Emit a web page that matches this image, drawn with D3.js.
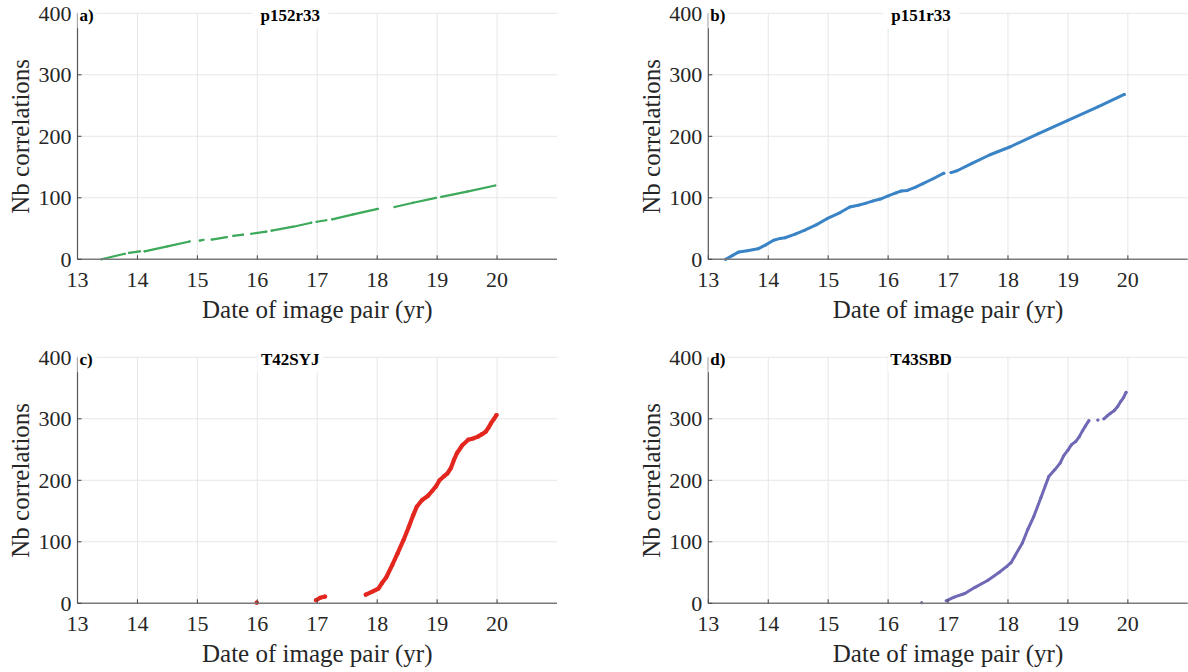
<!DOCTYPE html>
<meta charset="utf-8">
<style>
body { margin: 0; background: #fff; }
</style>
<svg width="1188" height="672"></svg>
<script src="https://d3js.org/d3.v7.min.js"></script>
<script>

// ---- data (null = gap in the record) ----
var yearsA  = [13.40, 13.79, null, 13.86, 14.04, null, 14.12, 14.50, 14.87, null, 15.04, 15.10, null,
               15.24, 15.49, null, 15.60, 15.76, null, 15.90, 16.15, null, 16.24, 16.60, 16.90, null,
               16.99, 17.15, null, 17.25, 17.60, 18.01, null, 18.29, 18.60, 18.98, null, 19.07, 19.50, 19.97];
var countsA = [0, 9, null, 10.5, 13, null, 13, 21, 29, null, 30.5, 31.5, null,
               32, 36, null, 38, 40, null, 41.5, 45, null, 46.5, 53, 59.5, null,
               61, 63.5, null, 65, 73, 82, null, 85, 92, 100, null, 101.5, 110, 120];

var yearsB  = [13.29, 13.40, 13.51, 13.65, 13.83, 13.95, 14.09, 14.20, 14.28, 14.45, 14.60, 14.80, 14.98,
               15.20, 15.36, 15.50, 15.62, 15.75, 15.87, 16.00, 16.13, 16.22, 16.32, 16.45, 16.58, 16.75,
               16.93, null, 17.05, 17.15, 17.40, 17.70, 18.04, 18.50, 19.00, 19.50, 19.94];
var countsB = [0, 6, 12, 14, 17, 23, 31, 34, 35, 41, 47, 56, 66,
               76, 85, 88, 91, 95, 98, 103, 108, 111, 112, 117, 123, 131,
               140, null, 141, 144, 156, 170, 183, 204, 226, 248, 268];

var yearsC  = [15.99, null, 16.98, 17.05, 17.13, null, 17.81, 17.92, 18.02, 18.08, 18.15, 18.25, 18.34,
               18.44, 18.53, 18.60, 18.66, 18.75, 18.85, 18.92, 18.98, 19.04, 19.12, 19.17, 19.23, 19.28,
               19.33, 19.42, 19.52, 19.60, 19.68, 19.75, 19.81, 19.86, 19.90, 19.95, 19.99];
var countsC = [1, null, 5, 9, 11, null, 14, 19, 24, 33, 42, 62, 81,
               103, 125, 143, 157, 168, 175, 183, 190, 200, 207, 211, 220, 233,
               244, 257, 266, 268, 271, 275, 279, 286, 293, 300, 306];

var yearsD  = [16.56, null, 16.97, 17.10, 17.28, 17.45, 17.66, 17.85, 17.98, 18.05, 18.11, 18.24, 18.33,
               18.43, 18.55, 18.68, 18.78, 18.87, 18.93, 19.00, 19.06, 19.13, 19.19, 19.24, 19.29, 19.35,
               null, 19.50, null, 19.60, 19.66, 19.71, 19.77, 19.83, 19.88, 19.93, 19.97];
var countsD = [1, null, 4, 10, 16, 26, 37, 50, 60, 66, 76, 98, 120,
               141, 172, 206, 217, 228, 240, 249, 258, 263, 271, 280, 288, 297,
               null, 298, null, 300, 305, 309, 313, 320, 328, 335, 343];

var xTicks = [13, 14, 15, 16, 17, 18, 19, 20];
var yTicks = [0, 100, 200, 300, 400];

var panels = [
  {tag: "a)", name: "p152r33", years: yearsA, counts: countsA, color: "#3da95a", lw: 2.2, left: 77.5,  top: 13.3},
  {tag: "b)", name: "p151r33", years: yearsB, counts: countsB, color: "#3a84c6", lw: 3,   left: 708.3, top: 13.3},
  {tag: "c)", name: "T42SYJ",  years: yearsC, counts: countsC, color: "#e3271f", lw: 4.2, left: 77.5,  top: 357.3},
  {tag: "d)", name: "T43SBD",  years: yearsD, counts: countsD, color: "#6f68b5", lw: 3,   left: 708.3, top: 357.3}
];

var FONT = "Liberation Serif";

var svg = d3.select("svg"),
    width = 479.5,
    height = 246;

var x = d3.scaleLinear().domain([13, 21]).range([0, width]),
    y = d3.scaleLinear().domain([0, 400]).range([height, 0]);

panels.forEach(function(p) {
  var g = svg.append("g").attr("transform", "translate(" + p.left + "," + p.top + ")");

  // grid
  var grid = g.append("g").attr("stroke", "#e6e6e6").attr("stroke-width", 1);
  grid.selectAll(".vx").data(xTicks.slice(1)).enter().append("line")
      .attr("x1", function(d) { return x(d); }).attr("x2", function(d) { return x(d); })
      .attr("y1", 0).attr("y2", height);
  grid.selectAll(".hy").data(yTicks.slice(1)).enter().append("line")
      .attr("x1", 0).attr("x2", width)
      .attr("y1", function(d) { return y(d); }).attr("y2", function(d) { return y(d); });

  // data
  var pts = p.years.map(function(d, i) { return {x: d, y: p.counts[i]}; });
  var line = d3.line()
      .defined(function(d) { return d.x != null && d.y != null; })
      .x(function(d) { return x(d.x); })
      .y(function(d) { return y(d.y); });

  g.append("path")
      .datum(pts)
      .attr("fill", "none")
      .attr("stroke", p.color)
      .attr("stroke-width", p.lw)
      .attr("stroke-linecap", "round")
      .attr("stroke-linejoin", "round")
      .attr("d", line);

  g.selectAll(".pt")
    .data(pts.filter(function(d) { return d.x != null; }))
    .enter().append("circle")
      .attr("cx", function(d) { return x(d.x); })
      .attr("cy", function(d) { return y(d.y); })
      .attr("r", p.lw / 2)
      .attr("fill", p.color);

  // axes
  var xAxis = g.append("g").attr("transform", "translate(0," + height + ")");
  xAxis.append("line").attr("x1", 0).attr("x2", width).attr("stroke", "#7a7a7a").attr("stroke-width", 1.5);
  xAxis.selectAll(".tk").data(xTicks).enter().append("line")
      .attr("x1", function(d) { return x(d); }).attr("x2", function(d) { return x(d); })
      .attr("y1", 0).attr("y2", -4).attr("stroke", "#444");
  xAxis.selectAll(".tl").data(xTicks).enter().append("text")
      .attr("font-family", FONT)
      .attr("font-size", 22)
      .attr("fill", "#262626")
      .attr("x", function(d) { return x(d); })
      .attr("y", 28)
      .attr("text-anchor", "middle")
      .text(function(d) { return d; });

  var yAxis = g.append("g");
  yAxis.append("line").attr("y1", 0).attr("y2", height).attr("stroke", "#555").attr("stroke-width", 1.2);
  yAxis.selectAll(".tk").data(yTicks).enter().append("line")
      .attr("x1", 0).attr("x2", 4)
      .attr("y1", function(d) { return y(d); }).attr("y2", function(d) { return y(d); })
      .attr("stroke", "#444");
  yAxis.selectAll(".tl").data(yTicks).enter().append("text")
      .attr("font-family", FONT)
      .attr("font-size", 22)
      .attr("fill", "#262626")
      .attr("x", -6)
      .attr("y", function(d) { return y(d); })
      .attr("dy", "0.34em")
      .attr("text-anchor", "end")
      .text(function(d) { return d; });

  g.append("text")
      .attr("font-family", FONT)
      .attr("font-size", 25)
      .attr("fill", "#262626")
      .attr("x", width / 2)
      .attr("y", height + 59)
      .attr("text-anchor", "middle")
      .text("Date of image pair (yr)");

  g.append("text")
      .attr("font-family", FONT)
      .attr("font-size", 25)
      .attr("fill", "#262626")
      .attr("transform", "translate(-48.5," + (height / 2) + ") rotate(-90)")
      .attr("text-anchor", "middle")
      .text("Nb correlations");

  // panel tag and title, on white boxes like the original (box size estimated, no measuring)
  var labels = [
    {t: p.tag,  x: 2,          anchor: "start",  bx: 0,                  bw: 19},
    {t: p.name, x: x(16.55),   anchor: "middle", bx: x(16.55) - p.name.length * 5 - 3, bw: p.name.length * 10 + 6}
  ];
  labels.forEach(function(o) {
    g.append("rect")
        .attr("x", o.bx)
        .attr("y", -9)
        .attr("width", o.bw)
        .attr("height", 24)
        .attr("fill", "#fff");
    g.append("text")
        .attr("font-family", FONT)
        .attr("font-size", 17)
        .attr("font-weight", "bold")
        .attr("fill", "#000")
        .attr("x", o.x)
        .attr("y", 7.4)
        .attr("text-anchor", o.anchor)
        .text(o.t);
  });
});

</script>
